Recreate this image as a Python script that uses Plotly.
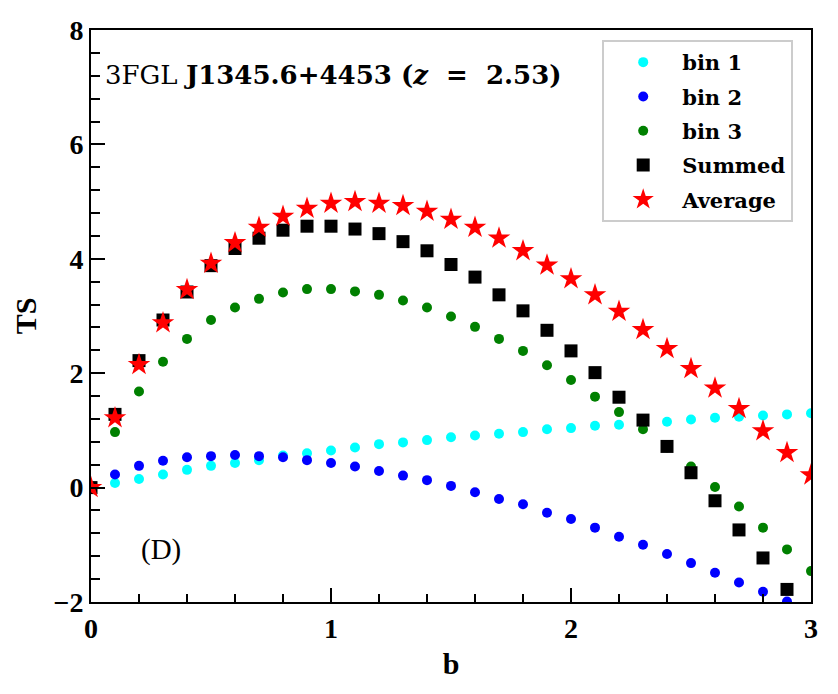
import plotly.graph_objects as go

b_vals = [round(i * 0.1, 1) for i in range(31)]

bin1 = [0.0, 0.08, 0.15, 0.23, 0.31, 0.38, 0.43, 0.48, 0.56, 0.60, 0.65, 0.70, 0.76, 0.79, 0.83, 0.88,
        0.91, 0.94, 0.97, 1.02, 1.04, 1.08, 1.10, 1.13, 1.15, 1.19, 1.22, 1.24, 1.26, 1.28, 1.30]
bin2 = [0.0, 0.23, 0.38, 0.47, 0.53, 0.55, 0.57, 0.55, 0.53, 0.48, 0.43, 0.37, 0.29, 0.21, 0.13, 0.03,
        -0.08, -0.20, -0.29, -0.44, -0.55, -0.70, -0.86, -1.00, -1.16, -1.32, -1.49, -1.66, -1.82, -1.99, -2.16]
bin3 = [0.0, 0.97, 1.68, 2.20, 2.60, 2.93, 3.15, 3.30, 3.41, 3.47, 3.47, 3.43, 3.37, 3.27, 3.15, 2.99,
        2.81, 2.60, 2.39, 2.14, 1.88, 1.59, 1.32, 1.02, 0.70, 0.37, 0.01, -0.33, -0.70, -1.08, -1.46]
summed = [0.0, 1.28, 2.22, 2.93, 3.42, 3.88, 4.18, 4.36, 4.50, 4.57, 4.57, 4.52, 4.44, 4.30, 4.14, 3.90,
          3.68, 3.37, 3.09, 2.75, 2.39, 2.01, 1.58, 1.18, 0.72, 0.26, -0.23, -0.74, -1.23, -1.78, -2.32]
average = [0.0, 1.22, 2.15, 2.88, 3.46, 3.92, 4.28, 4.55, 4.74, 4.88, 4.97, 5.00, 4.97, 4.93, 4.83, 4.69,
           4.55, 4.36, 4.14, 3.89, 3.65, 3.37, 3.08, 2.76, 2.43, 2.08, 1.74, 1.38, 0.99, 0.61, 0.22]

x_ticks = [0, 1, 2, 3]
y_ticks = [-2, 0, 2, 4, 6, 8]

SERIF = "Liberation Serif"
WIDE = "DejaVu Serif"

fig = go.Figure()
series = [
    ("bin 1", bin1, "circle", 10, "#00ffff"),
    ("bin 2", bin2, "circle", 10, "#0000ff"),
    ("bin 3", bin3, "circle", 10, "#008000"),
    ("Summed", summed, "square", 13, "#000000"),
    ("Average", average, "star", 17, "#ff0000"),
]
for i, (name, ys, sym, sz, col) in enumerate(series):
    fig.add_trace(go.Scatter(
        x=b_vals, y=ys, mode="markers", name=name, legendgroup=f"g{i}",
        marker=dict(symbol=sym, size=sz, color=col, line=dict(width=0)),
    ))

axis_common = dict(
    showline=True, linecolor="black", linewidth=2, mirror=True,
    ticks="inside", tickcolor="black", tickwidth=2, ticklen=14,
    showgrid=False, zeroline=False,
    tickfont=dict(family=SERIF, size=28, color="black", weight="bold"),
)
fig.update_xaxes(
    range=[0, 3], tickvals=x_ticks,
    minor=dict(dtick=0.2, ticks="inside", ticklen=8, tickwidth=2, tickcolor="black"),
    title=dict(text="b", font=dict(family=SERIF, size=30, color="black", weight="bold"), standoff=10),
    **axis_common,
)
fig.update_yaxes(
    range=[-2, 8], tickvals=y_ticks,
    minor=dict(dtick=0.4, ticks="inside", ticklen=9, tickwidth=2, tickcolor="black"),
    title=dict(text="TS", font=dict(family=SERIF, size=30, color="black", weight="bold"), standoff=8),
    **axis_common,
)

fig.add_annotation(
    x=0.052, y=7.21, xref="x", yref="y", xanchor="left", yanchor="middle", showarrow=False,
    text="3FGL <b>J1345.6+4453 (<i>z</i>\u00a0\u00a0=\u00a0\u00a02.53)</b>",
    font=dict(family=WIDE, size=26, color="black"),
)
fig.add_annotation(
    x=0.2, y=-1.09, xref="x", yref="y", xanchor="left", yanchor="middle", showarrow=False,
    text="(D)", font=dict(family=SERIF, size=29, color="black"),
)

fig.update_layout(
    width=838, height=694,
    margin=dict(l=91, r=27, t=30, b=92),
    paper_bgcolor="white", plot_bgcolor="white",
    showlegend=True,
    legend=dict(
        x=0.71, y=0.9825, xanchor="left", yanchor="top",
        bgcolor="white", bordercolor="#cccccc", borderwidth=2,
        font=dict(family=WIDE, size=21, color="black", weight="bold"),
        tracegroupgap=4, itemwidth=68,
    ),
)

fig.write_html("out.html")
